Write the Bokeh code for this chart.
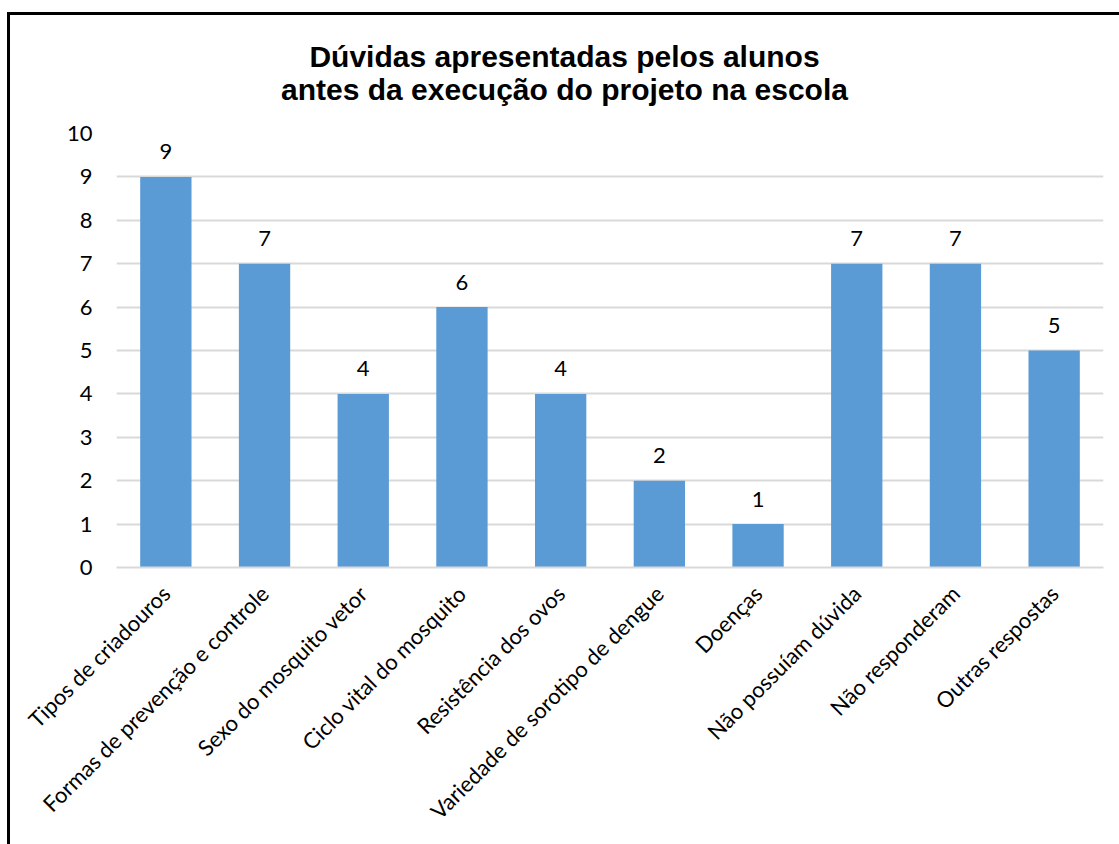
from bokeh.plotting import figure
from bokeh.models import ColumnDataSource, FixedTicker, Div, Column
from bokeh.embed import file_html
from bokeh.resources import INLINE
from bokeh.core.properties import value
import math

categories = ["Tipos de criadouros", "Formas de prevenção e controle", "Sexo do mosquito vetor",
              "Ciclo vital do mosquito", "Resistência dos ovos", "Variedade de sorotipo de dengue",
              "Doenças", "Não possuíam dúvida", "Não responderam", "Outras respostas"]
counts = [9, 7, 4, 6, 4, 2, 1, 7, 7, 5]
y_ticks = [0, 1, 2, 3, 4, 5, 6, 7, 8, 9, 10]
title_lines = ["Dúvidas apresentadas pelos alunos", "antes da execução do projeto na escola"]

src = ColumnDataSource(dict(cat=categories, val=counts, lab=[str(v) for v in counts]))

LABEL_FONT = "Lato"
FS = "22px"

title_html = ('<div style="padding-left:11px;padding-top:25px;text-align:center;'
              'font-family:\'Liberation Sans\';font-weight:bold;font-size:30px;'
              'line-height:33px;color:black;width:1098px;">'
              + "<br>".join(title_lines) + "</div>")
title_div = Div(text=title_html, width=1109, height=100, margin=0)

p = figure(x_range=categories, y_range=(0, 10), width=1109, height=729,
           output_backend="svg", toolbar_location=None,
           min_border_left=106, min_border_right=16, min_border_top=18, min_border_bottom=277)
p.outline_line_color = None

p.vbar(x="cat", top="val", width=0.52, source=src, color="#5B9BD5", line_color=None)
p.text(x="cat", y="val", text="lab", source=src, text_align="center", text_baseline="middle",
       y_offset=-25, text_font=value(LABEL_FONT), text_font_size=FS, text_color="black")

p.yaxis.ticker = FixedTicker(ticks=y_ticks)
p.yaxis.axis_line_color = None
p.yaxis.major_tick_line_color = None
p.yaxis.minor_tick_line_color = None
p.yaxis.major_label_standoff = 18
p.yaxis.major_label_text_font = LABEL_FONT
p.yaxis.major_label_text_font_size = FS
p.yaxis.major_label_text_color = "black"

p.xaxis.axis_line_color = "#d9d9d9"
p.xaxis.axis_line_width = 2
p.xaxis.major_tick_line_color = None
p.xaxis.minor_tick_line_color = None
p.xaxis.major_label_orientation = math.pi / 4
p.xaxis.major_label_standoff = 16
p.xaxis.major_label_text_font = LABEL_FONT
p.xaxis.major_label_text_font_size = FS
p.xaxis.major_label_text_color = "black"

p.xgrid.grid_line_color = None
p.ygrid.grid_line_color = "#d9d9d9"
p.ygrid.grid_line_width = 2
p.x_range.range_padding = 0

layout = Column(title_div, p, spacing=0)
layout.styles = {"margin-left": "7px", "margin-top": "12px",
                 "border-top": "3px solid black", "border-left": "3px solid black",
                 "background-color": "white"}

open("out.html", "w").write(file_html(layout, INLINE))
